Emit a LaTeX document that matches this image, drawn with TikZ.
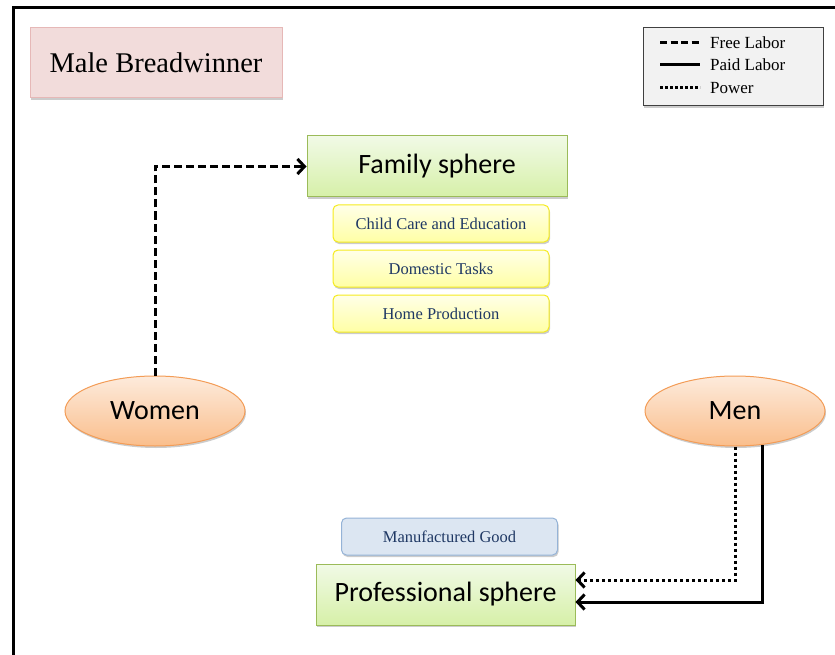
\documentclass[tikz,border=0pt]{standalone}
\usepackage{fontspec}
\setmainfont{Liberation Serif}
\newfontfamily\calibrifont{Carlito}
\usetikzlibrary{shapes.geometric, shadows, arrows.meta}

\definecolor{pinkfill}{RGB}{242,220,219}
\definecolor{pinkline}{RGB}{230,184,183}
\definecolor{greentop}{RGB}{241,250,230}
\definecolor{greenbot}{RGB}{214,240,168}
\definecolor{greenline}{RGB}{155,187,89}
\definecolor{yellowtop}{RGB}{255,255,232}
\definecolor{yellowbot}{RGB}{255,255,165}
\definecolor{yellowline}{RGB}{245,235,30}
\definecolor{orangetop}{RGB}{253,235,220}
\definecolor{orangebot}{RGB}{250,190,140}
\definecolor{orangeline}{RGB}{243,156,86}
\definecolor{bluefill}{RGB}{220,230,242}
\definecolor{blueline}{RGB}{149,179,215}
\definecolor{bluetext}{RGB}{31,56,100}
\definecolor{legendfill}{RGB}{242,242,242}

\begin{document}
\begin{tikzpicture}[x=1pt, y=-1pt,
    softshadow/.style={drop shadow={shadow xshift=1pt, shadow yshift=-2pt, fill=black!40, opacity=0.5}},
    sphere/.style={draw=greenline, line width=1pt, top color=greentop, bottom color=greenbot,
        minimum width=260pt, minimum height=61pt, font=\calibrifont\fontsize{28}{30}\selectfont, softshadow},
    task/.style={draw=yellowline, line width=1pt, rounded corners=5pt, top color=yellowtop, bottom color=yellowbot,
        minimum width=216pt, minimum height=37pt, text=bluetext, font=\fontsize{16.5}{18}\selectfont, softshadow},
    actor/.style={ellipse, draw=orangeline, line width=1pt, top color=orangetop, bottom color=orangebot,
        minimum width=180pt, minimum height=70pt, font=\calibrifont\fontsize{28}{30}\selectfont, softshadow},
    flow/.style={line width=3pt, -{Straight Barb[length=7pt, width=15pt]}},
    legtext/.style={anchor=west, inner sep=0pt, font=\fontsize{17}{19}\selectfont}]
    \useasboundingbox (0,0) rectangle (835,655);

    % Marco
    \draw[line width=3pt] (13,655) -- (13,8) -- (835,8);

    % Titulo y leyenda
    \node[draw=pinkline, fill=pinkfill, line width=1pt, minimum width=252pt, minimum height=70pt,
        font=\fontsize{28.5}{30}\selectfont, softshadow] (title) at (156,63) {Male Breadwinner};
    \node[draw=black!75, fill=legendfill, line width=1pt, minimum width=180pt, minimum height=78pt,
        softshadow] (legend) at (733,67) {};
    \node[legtext] (lfree) at (710,43) {Free Labor};
    \node[legtext] (lpaid) at (710,65) {Paid Labor};
    \node[legtext] (lpower) at (710,88) {Power};
    \draw[line width=3pt, dash pattern=on 7pt off 3.5pt] ([xshift=-50pt]lfree.west) -- ([xshift=-10pt]lfree.west);
    \draw[line width=3pt] ([xshift=-50pt]lpaid.west) -- ([xshift=-10pt]lpaid.west);
    \draw[line width=3pt, dash pattern=on 2.5pt off 2.5pt] ([xshift=-50pt]lpower.west) -- ([xshift=-10pt]lpower.west);

    % Esfera familiar
    \node[sphere] (family) at (437,166.5) {Family sphere};
    \node[task] (care) at (441,223.5) {Child Care and Education};
    \node[task] (domestic) at (441,268.5) {Domestic Tasks};
    \node[task] (home) at (441,313.5) {Home Production};

    % Esfera profesional
    \node[task, draw=blueline, fill=bluefill, top color=bluefill, bottom color=bluefill] (good) at (449.5,536.5) {Manufactured Good};
    \node[sphere, minimum width=259pt] (prof) at (445.5,594.5) {Professional sphere};

    % Actores
    \node[actor] (women) at (155,411) {Women};
    \node[actor] (men) at (735,411) {Men};

    % Flujos
    \draw[flow, dash pattern=on 8pt off 4pt] (women.north) |- (family.west);
    \draw[flow, dash pattern=on 3pt off 3pt] (men.south) |- ([yshift=14.5pt]prof.east);
    \draw[flow] (men.-51) |- ([yshift=-7.5pt]prof.east);
\end{tikzpicture}
\end{document}
